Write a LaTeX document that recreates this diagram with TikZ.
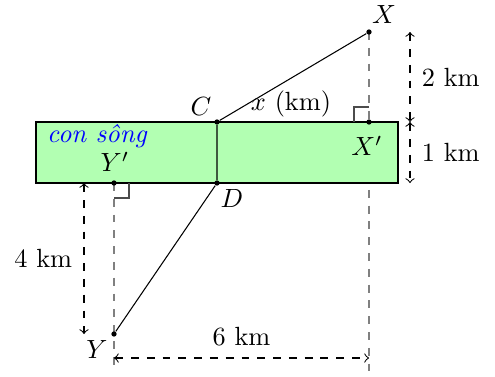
\documentclass[tikz,border=0pt]{standalone}
\usepackage{fontspec}
\begin{document}
\begin{tikzpicture}[x=0.38pt,y=-0.38pt,
  guide/.style={gray, dashed},
  dim/.style={dashed, <->},
  dot/.style={circle, fill=black, inner sep=0pt, minimum size=2pt}]
\useasboundingbox (0,0) rectangle (495,376);
% points
\coordinate (X0) at (369,32);
\coordinate (Y0) at (114,183);
\coordinate (Xbot) at (369,385);
\coordinate (Ybot) at (114,366);
% guides (under the river)
\draw[guide] (X0) -- (Xbot);
\draw[guide] (Y0) -- (Ybot);
% river
\draw[fill=green!30] (36,122) rectangle (398,183);
\node[blue, font=\itshape] (river) at (97,136) {con sông};
\node[dot] (X) at (369,32) {};
\node[dot] (Xp) at (369,122) {};
\node[dot] (C) at (217,122) {};
\node[dot] (D) at (217,183) {};
\node[dot] (Yp) at (114,183) {};
\node[dot] (Y) at (114,334) {};
% right angle marks
\draw[gray!60!black] (Xp) ++(0,-15) -- ++(-15,0) -- ++(0,15);
\draw[gray!60!black] (Yp) ++(15,0) -- ++(0,15) -- ++(-15,0);
% path
\draw (X) -- (C) -- (D) -- (Y);
% labels
\node (lX) at (384,15) {$X$};
\node (lXp) at (367,146) {$X'$};
\node (lC) at (201,107) {$C$};
\node (lD) at (232,199) {$D$};
\node (lYp) at (115,162) {$Y'$};
\node (lY) at (97,349) {$Y$};
\node (lx) at (291,104) {$x$ (km)};
% dimensions
\coordinate (a1) at (410,32);
\coordinate (a2) at (410,122);
\coordinate (a3) at (410,183);
\draw[dim] (a1) -- node[right=1pt] (l2) {2 km} (a2);
\draw[dim] (a2) -- node[right=1pt] (l1) {1 km} (a3);
\coordinate (b1) at (84,183);
\coordinate (b2) at (84,334);
\draw[dim] (b1) -- node[left=1pt] (l4) {4 km} (b2);
\coordinate (c1) at (114,358);
\coordinate (c2) at (369,358);
\draw[dim] (c1) -- node[above=1pt] (l6) {6 km} (c2);
\end{tikzpicture}
\end{document}
